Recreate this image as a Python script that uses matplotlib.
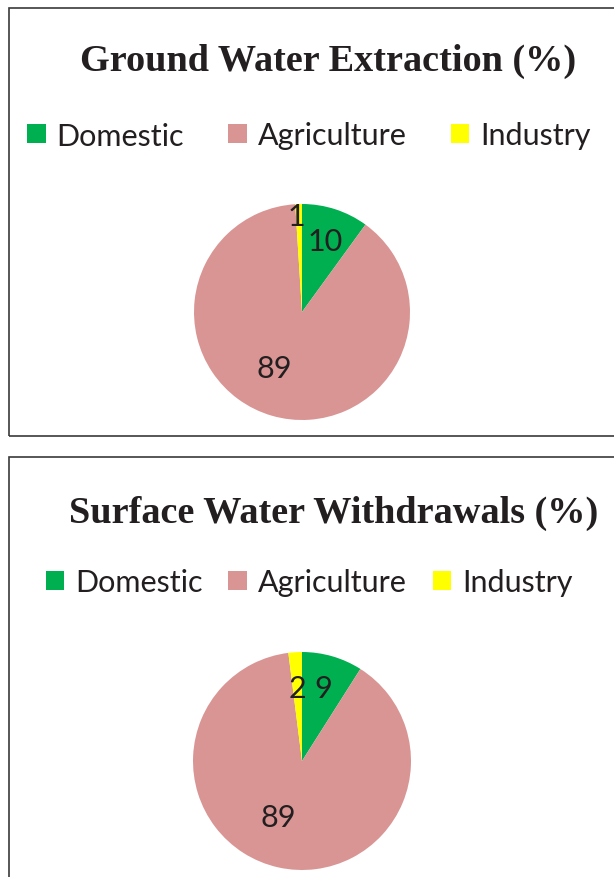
import matplotlib
matplotlib.use("Agg")
import matplotlib.pyplot as plt
from matplotlib.patches import Rectangle, Patch
import numpy as np

categories = ["Domestic", "Agriculture", "Industry"]
ground_values = [10, 89, 1]
surface_values = [9, 89, 2]
titles = ["Ground Water Extraction", "Surface Water Withdrawals"]
colors = ["#00B050", "#D99594", "#FFFF00"]

W, H = 614, 878
fig = plt.figure(figsize=(W / 100, H / 100), dpi=100)

def fx(px):
    return px / W

def fy(py):
    return 1 - py / H

text_color = "#231F20"
label_font = ["Lato", "DejaVu Sans"]
title_font = ["Liberation Serif", "DejaVu Serif"]

# panel borders
for (x0, y0, x1, y1) in [(9, 9, 620, 437), (9, 458, 620, 885)]:
    fig.patches.append(Rectangle((fx(x0), fy(y1)), fx(x1 - x0), (y1 - y0) / H,
                                 transform=fig.transFigure, fill=False,
                                 edgecolor="#3a3a3a", linewidth=1.2, zorder=0))

panels = [
    dict(values=ground_values, title=titles[0], cx=302, cy=313, r=108,
         title_xy=(328, 61), leg_xy=(309, 136.5), colsp=1.45,
         lab_r=[0.69, 0.58, 0.89], lab_off=[0, -10, 1.5]),
    dict(values=surface_values, title=titles[1], cx=302, cy=762, r=109,
         title_xy=(334, 513), leg_xy=(309, 583), colsp=0.85,
         lab_r=[0.70, 0.56, 0.67], lab_off=[0, -10, 0]),
]

for p in panels:
    ax = fig.add_axes([fx(p["cx"] - p["r"]), fy(p["cy"] + p["r"]),
                       fx(2 * p["r"]), 2 * p["r"] / H])
    wedges, _ = ax.pie(p["values"], colors=colors, startangle=90,
                       counterclock=False, radius=1,
                       wedgeprops=dict(linewidth=0))
    ax.set_xlim(-1, 1)
    ax.set_ylim(-1, 1)
    ax.set_aspect("equal")
    ax.axis("off")
    for w, v, lr, off in zip(wedges, p["values"], p["lab_r"], p["lab_off"]):
        ang = np.deg2rad((w.theta1 + w.theta2) / 2 + off)
        ax.text(lr * np.cos(ang), lr * np.sin(ang), str(v), ha="center",
                va="center", fontsize=22, color=text_color, family=label_font)

    fig.text(fx(p["title_xy"][0]), fy(p["title_xy"][1]), p["title"] + " (%)",
             ha="center", va="center", fontsize=27.5, fontweight="bold",
             family=title_font, color=text_color)

    handles = [Patch(facecolor=c, edgecolor="none") for c in colors]
    fig.legend(handles, categories, loc="center",
               bbox_to_anchor=(fx(p["leg_xy"][0]), fy(p["leg_xy"][1])),
               ncol=3, frameon=False, prop=dict(family=label_font, size=22),
               handlelength=0.6, handleheight=0.6, handletextpad=0.36,
               columnspacing=p["colsp"], labelcolor=text_color)

fig.savefig("out.png", dpi=100, facecolor="white")
